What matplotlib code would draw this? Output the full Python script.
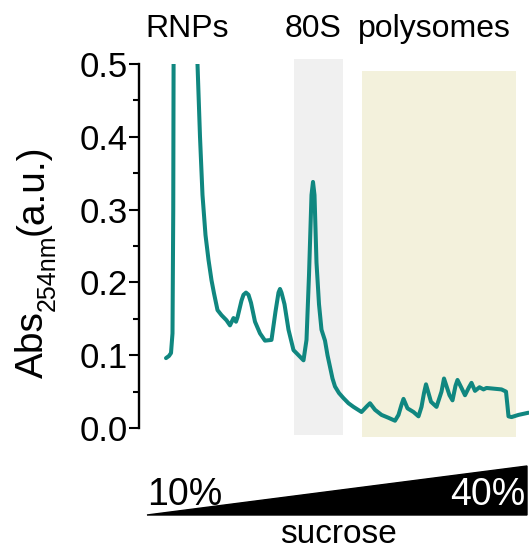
import matplotlib
matplotlib.use("Agg")
import matplotlib.pyplot as plt
from matplotlib.patches import Polygon, Rectangle

plt.rcParams["font.family"] = ["Liberation Sans", "DejaVu Sans"]

# gradient position (mm from top of tube) and A254 trace
position = [
    5.4, 6.0, 6.4, 6.7, 6.85, 6.95, 7.3, 9.5, 11.5, 11.7, 12.2, 12.7, 13.3, 13.9,
    14.5, 15.0, 15.7, 16.5, 17.5, 18.2, 18.9, 19.4, 19.7, 20.5, 20.9, 21.4, 21.9,
    22.4, 23.2, 24.2, 25.2, 26.5, 27.3, 27.9, 28.2, 28.5, 29.1, 29.9, 30.9, 31.9,
    32.9, 33.5, 34.0, 34.5, 34.8, 35.1, 35.5, 36.0, 36.5, 37.2, 37.7, 38.2, 38.7,
    39.2, 40.0, 40.9, 41.9, 42.9, 44.5, 45.6, 46.2, 47.2, 48.5, 49.9, 51.2, 51.9,
    52.5, 52.9, 53.7, 54.9, 55.9, 56.5, 57.0, 57.4, 58.4, 59.5, 60.5, 61.0, 62.1,
    62.7, 63.3, 63.7, 64.5, 65.2, 66.0, 66.5, 67.2, 68.1, 68.9, 69.5, 72.5, 73.4,
    73.7, 73.9, 74.5, 75.9, 77.9,
]
absorbance = [
    0.096, 0.099, 0.103, 0.130, 0.300, 0.600, 1.200, 1.600, 1.000, 0.500, 0.400,
    0.320, 0.265, 0.231, 0.203, 0.185, 0.162, 0.155, 0.148, 0.141, 0.151, 0.146,
    0.152, 0.175, 0.183, 0.186, 0.183, 0.172, 0.146, 0.130, 0.120, 0.121, 0.160,
    0.186, 0.191, 0.186, 0.170, 0.135, 0.107, 0.100, 0.093, 0.121, 0.210, 0.320,
    0.338, 0.320, 0.227, 0.170, 0.135, 0.120, 0.100, 0.084, 0.068, 0.057, 0.048,
    0.041, 0.034, 0.029, 0.022, 0.030, 0.034, 0.025, 0.018, 0.014, 0.010, 0.018,
    0.032, 0.040, 0.027, 0.022, 0.016, 0.029, 0.048, 0.060, 0.036, 0.029, 0.050,
    0.068, 0.045, 0.038, 0.058, 0.066, 0.055, 0.045, 0.056, 0.062, 0.051, 0.056,
    0.053, 0.055, 0.053, 0.050, 0.030, 0.016, 0.015, 0.018, 0.021,
]

# shaded fractions: (start, end, y bottom, y top)
monosome_band = (30.9, 40.7, -0.010, 0.507)
polysome_band = (44.5, 75.4, -0.012, 0.490)

yticks = [0.0, 0.1, 0.2, 0.3, 0.4, 0.5]
ytick_labels = ["0.0", "0.1", "0.2", "0.3", "0.4", "0.5"]
minor_yticks = [0.05, 0.15, 0.25, 0.35, 0.45]

W, H = 529, 551
fig = plt.figure(figsize=(W / 100, H / 100), dpi=100)
ax = fig.add_axes([139 / W, 1 - 428 / H, (W - 139) / W, (428 - 64) / H])


def fig_xy(px, py):
    return px / W, 1 - py / H


for (x0, x1, y0, y1), color in [(monosome_band, "#f0f0f0"), (polysome_band, "#f3f1dc")]:
    ax.add_patch(Rectangle((x0, y0), x1 - x0, y1 - y0, facecolor=color,
                           edgecolor="none", clip_on=False, zorder=0))

ax.plot(position, absorbance, color="#108780", lw=2.9, solid_joinstyle="round",
        solid_capstyle="round", zorder=3)

ax.set_xlim(0, 78)
ax.set_ylim(0, 0.5)
ax.set_yticks(yticks)
ax.set_yticklabels(ytick_labels, fontsize=25)
ax.set_yticks(minor_yticks, minor=True)
ax.tick_params(axis="y", which="major", length=7, width=1.5, pad=1)
ax.tick_params(axis="y", which="minor", length=4, width=1.5)
ax.set_xticks([])
for side in ["top", "right", "bottom"]:
    ax.spines[side].set_visible(False)
ax.spines["left"].set_linewidth(1.7)
ax.patch.set_alpha(0)

# fraction labels above the plot
for label, px in [("RNPs", 145), ("80S", 285), ("polysomes", 358)]:
    fig.text(*fig_xy(px, 37), label, fontsize=23, ha="left", va="baseline")

# y label built from pieces so the subscript sits lower and smaller
renderer = fig.canvas.get_renderer()
y_cursor = 378
for piece, size, base_x in [("Abs", 28, 43), ("254nm", 18, 55), ("(a.u.)", 28, 43)]:
    t = fig.text(*fig_xy(base_x, y_cursor), piece, fontsize=size, rotation=90,
                 rotation_mode="anchor", ha="left", va="baseline")
    bb = t.get_window_extent(renderer)
    y_cursor -= bb.height

# sucrose gradient wedge
wedge = Polygon([fig_xy(147, 515), fig_xy(527, 466), fig_xy(527, 515)],
                closed=True, facecolor="black", edgecolor="black",
                transform=fig.transFigure)
fig.add_artist(wedge)
fig.text(*fig_xy(147, 505), "10%", fontsize=27, ha="left", va="baseline")
fig.text(*fig_xy(525, 505), "40%", fontsize=27, ha="right", va="baseline",
         color="white")
fig.text(*fig_xy(338, 543), "sucrose", fontsize=24, ha="center", va="baseline")

fig.savefig("out.png", dpi=100)
